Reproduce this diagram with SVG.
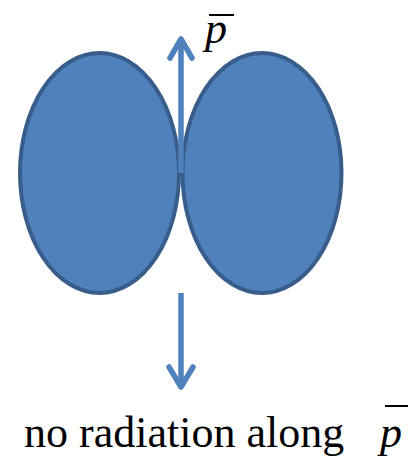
<svg xmlns="http://www.w3.org/2000/svg" width="411" height="457" viewBox="0 0 411 457">
<style>
.lobe{fill:#4F81BD;stroke:#385D8A;stroke-width:4}
.shaft{stroke:#4F81BD;stroke-width:5.5;fill:none}
.head{stroke:#4F81BD;stroke-width:5.5;fill:none;stroke-linecap:round;stroke-linejoin:round}
.t{font-family:'Liberation Serif','Times New Roman',serif;font-size:44px;fill:#000}
.bar{stroke:#000;stroke-width:2}
</style>
<rect width="411" height="457" fill="#fff"/>
<g id="lobe-left"><ellipse class="lobe" cx="99.5" cy="173" rx="79.5" ry="120"/></g>
<g id="lobe-right"><ellipse class="lobe" cx="262" cy="173" rx="79.5" ry="120"/></g>
<g id="connectors">
<line class="shaft" x1="181" y1="173" x2="181" y2="40"/>
<polyline class="head" points="170,58 181,39 192,58"/>
<line class="shaft" x1="181" y1="293" x2="181" y2="386"/>
<polyline class="head" points="169,367 181,387 193,367"/>
</g>
<g id="label-p">
<text class="t" x="205" y="43" font-style="italic">p</text>
<line class="bar" x1="209" y1="15" x2="234" y2="15"/>
</g>
<g id="caption">
<text class="t" x="24" y="447">no radiation along</text>
<text class="t" x="380" y="447" font-style="italic">p</text>
<line class="bar" x1="385" y1="406" x2="408" y2="406"/>
</g>
</svg>
